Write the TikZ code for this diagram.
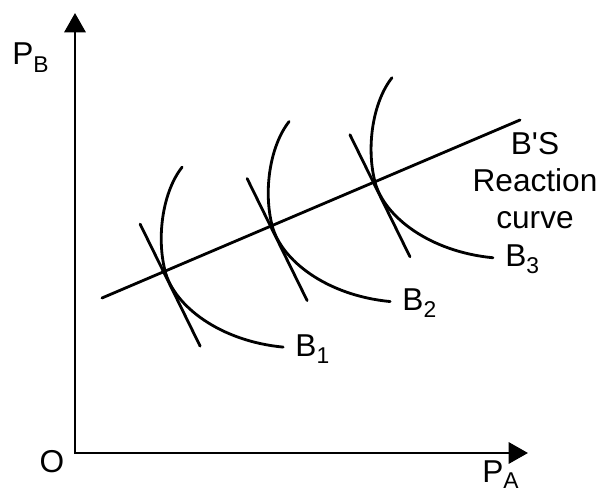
\documentclass[tikz,border=0pt]{standalone}
\usepackage{fontspec}
\setmainfont{Liberation Sans}
\usetikzlibrary{arrows.meta,calc}
\newcommand{\lowsub}[1]{\raisebox{-4pt}{\fontsize{13}{13}\selectfont #1}}

\begin{document}
\begin{tikzpicture}[
  x=0.02cm, y=-0.02cm,
  axis/.style={line width=1.7pt, {Triangle[length=11pt,width=12pt]}-{Triangle[length=11pt,width=12pt]}},
  curve/.style={line width=1.6pt, line cap=round},
  lab/.style={font=\fontsize{18}{21}\selectfont, inner sep=0pt}
]
  \useasboundingbox (0,0) rectangle (602,492);

  \coordinate (O) at (75,453);
  \coordinate (ytip) at (75,13);
  \coordinate (xtip) at (528,453);

  % Axes
  \draw[axis] (ytip) -- (O) -- (xtip);
  \node[lab, anchor=base west] (pb) at (12,65) {P\lowsub{B}};
  \node[lab, anchor=base west] (pa) at (482,483) {P\raisebox{-3pt}{\fontsize{13}{13}\selectfont A}};
  \node[lab] (orig) at (52,462) {O};

  % B's reaction curve
  \coordinate (r1) at (102,298);
  \coordinate (r2) at (520,120);
  \draw[curve] (r1) -- (r2);
  \node[lab, align=center, anchor=north] (bs) at (535,132) {B\textquotesingle S\\Reaction\\curve};

  \coordinate (c1) at ($(r1)!0.151!(r2)$);
  \coordinate (c2) at ($(r1)!0.407!(r2)$);
  \coordinate (c3) at ($(r1)!0.653!(r2)$);

  % Isoprofit curves with tangents
  \foreach \c/\n in {c1/1, c2/2, c3/3}{
    \begin{scope}[shift={(\c)}]
      \draw[curve] (-25,-47) -- (35,75);
      \draw[curve] (17,-104) .. controls (-2,-80) and (-9,-35) .. (0,0)
                             .. controls (9,35) and (55,70) .. (118,76);
      \node[lab, anchor=base west] (b\n) at (130,85) {B\lowsub{\n}};
    \end{scope}
  }
\end{tikzpicture}
\end{document}
